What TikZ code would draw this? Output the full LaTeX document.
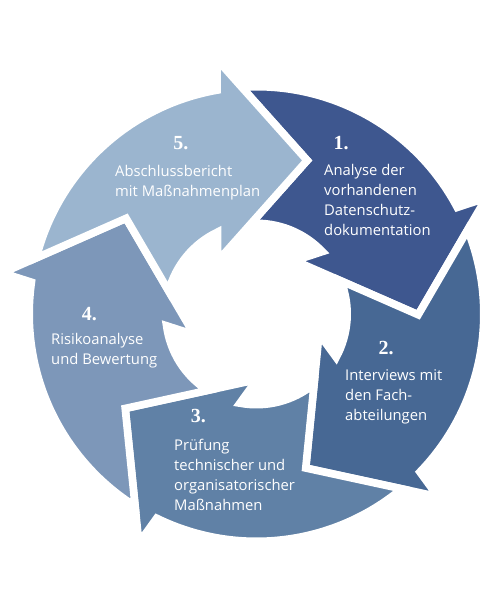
\documentclass[tikz,border=0pt]{standalone}
\usepackage{fontspec}
\setmainfont{Open Sans}
\newfontfamily\numfont{Liberation Serif}
\definecolor{phase1}{HTML}{3E578F}
\definecolor{phase2}{HTML}{476894}
\definecolor{phase3}{HTML}{6081A6}
\definecolor{phase4}{HTML}{7D97B9}
\definecolor{phase5}{HTML}{9BB5CF}
% #1 = angle of the tip, #2 = colour
\newcommand{\cyclearrow}[2]{%
 \fill [#2,draw=white,line width=7.6,line join=miter]
  ({#1+92.26}:227.3) arc [start angle={#1+92.26}, end angle={#1+26.5}, radius=227.3]
  -- ({#1+25.35}:257.46) -- ({#1-1.73}:161.72) -- ({#1+52.89}:65.65)
  -- ({#1+41.99}:90.7) arc [start angle={#1+41.99}, end angle={#1+91.95}, radius=90.7]
  -- ({#1+70.27}:161.72) -- cycle;%
}

\begin{document}
\begin{tikzpicture}[x=1pt,y=1pt,
  steptext/.style={anchor=north west,inner sep=0,align=left,text=white,font=\fontsize{14.8}{20}\selectfont},
  stepnum/.style={inner sep=0,text=white,font=\numfont\bfseries\fontsize{20}{20}\selectfont}]
   \useasboundingbox (-256.5,-286) rectangle (243.5,314);
   \cyclearrow{1.46}{phase1};
   \cyclearrow{-70.54}{phase2};
   \cyclearrow{-142.54}{phase3};
   \cyclearrow{-214.54}{phase4};
   \cyclearrow{-286.54}{phase5};
   \node[stepnum] (n1) at (84.5,170.5) {1.};
   \node[steptext] (t1) at (67.5,150.2) {Analyse der\\vorhandenen\\Datenschutz-\\dokumentation};
   \node[stepnum] (n2) at (129.5,-34) {2.};
   \node[steptext] (t2) at (88.5,-55.5) {Interviews mit\\den Fach-\\abteilungen};
   \node[stepnum] (n3) at (-58,-102) {3.};
   \node[steptext] (t3) at (-82.5,-124.8) {Prüfung\\technischer und\\organisatorischer\\Maßnahmen};
   \node[stepnum] (n4) at (-167,-0.5) {4.};
   \node[steptext] (t4) at (-205.5,-18.8) {Risikoanalyse\\und Bewertung};
   \node[stepnum] (n5) at (-75.5,170.5) {5.};
   \node[steptext] (t5) at (-141.5,149.2) {Abschlussbericht\\mit Maßnahmenplan};
\end{tikzpicture}
\end{document}
